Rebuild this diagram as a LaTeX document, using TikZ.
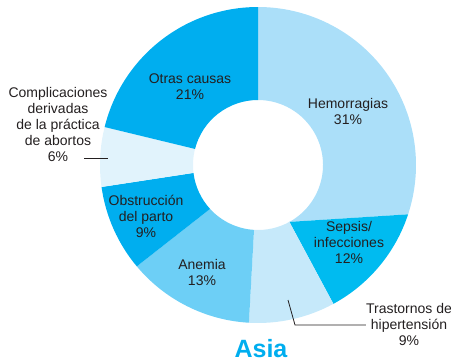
\documentclass[tikz,border=0pt]{standalone}
\usepackage{fontspec}
\setmainfont{Liberation Sans}
\usetikzlibrary{positioning}
\definecolor{ink}{HTML}{231F20}
\definecolor{hemo}{HTML}{ABDFF9}
\definecolor{seps}{HTML}{00BBF0}
\definecolor{hiper}{HTML}{C6E9FA}
\definecolor{anem}{HTML}{6DCFF6}
\definecolor{obst}{HTML}{00AEEF}
\definecolor{abor}{HTML}{E1F3FC}
\definecolor{otras}{HTML}{00AEEF}

\begin{document}
\begin{tikzpicture}[x=1pt,y=1pt,
		lbl/.style={align=center, text=ink, inner sep=0pt, font=\fontsize{14}{16}\selectfont},
		lead/.style={draw=ink, line width=0.8pt},
		title/.style={text=obst, inner sep=0pt, anchor=base, font=\bfseries\fontsize{25}{30}\selectfont}]
	\useasboundingbox (0,0) rectangle (451,-359);

	% ring, clockwise from the top
	\begin{scope}[shift={(258,-165)}]
		\fill[hemo] (90:158) arc[start angle=90, end angle=-18.2, radius=158] -- (-61.1:65) arc[start angle=-61.1, end angle=90, radius=65] -- cycle;
		\fill[seps] (-18.2:158) arc[start angle=-18.2, end angle=-61.5, radius=158] -- (-61.1:65) -- cycle;
		\fill[hiper] (-61.5:158) arc[start angle=-61.5, end angle=-93.3, radius=158] -- (-93.5:65) arc[start angle=-93.5, end angle=-61.1, radius=65] -- cycle;
		\fill[anem] (-93.3:158) arc[start angle=-93.3, end angle=-140.1, radius=158] -- (-137.5:65) arc[start angle=-137.5, end angle=-93.5, radius=65] -- cycle;
		\fill[obst] (-140.1:158) arc[start angle=-140.1, end angle=-172, radius=158] -- (-173:65) arc[start angle=-173, end angle=-137.5, radius=65] -- cycle;
		\fill[abor] (-172:158) arc[start angle=-172, end angle=-193.9, radius=158] -- (-194.3:65) arc[start angle=-194.3, end angle=-173, radius=65] -- cycle;
		\fill[otras] (166.1:158) arc[start angle=166.1, end angle=90, radius=158] -- (90:65) arc[start angle=90, end angle=165.7, radius=65] -- cycle;
	\end{scope}

	% labels
	\node[lbl] (otr) at (190,-87) {Otras causas\\21\%};
	\node[lbl] (hem) at (348,-111) {Hemorragias\\31\%};
	\node[lbl] (sep) at (349,-242) {Sepsis/\\infecciones\\12\%};
	\node[lbl] (ane) at (202,-272) {Anemia\\13\%};
	\node[lbl] (obs) at (146,-216) {Obstrucción\\del parto\\9\%};
	\node[lbl] (abo) at (58,-124) {Complicaciones\\derivadas\\de la práctica\\de abortos\\6\%};
	\node[lbl] (hip) at (409,-324) {Trastornos de\\hipertensión\\9\%};
	\node[title] (asia) at (261,-357.5) {Asia};

	% leaders
	\coordinate (ab1) at (84,-158);
	\coordinate (ab2) at (108,-158);
	\coordinate (hp1) at (288,-300);
	\coordinate (hp2) at (295,-325);
	\draw[lead] (ab1) -- (ab2);
	\draw[lead] (hp1) -- (hp2) -- (hp2 -| hip.west);
\end{tikzpicture}
\end{document}
